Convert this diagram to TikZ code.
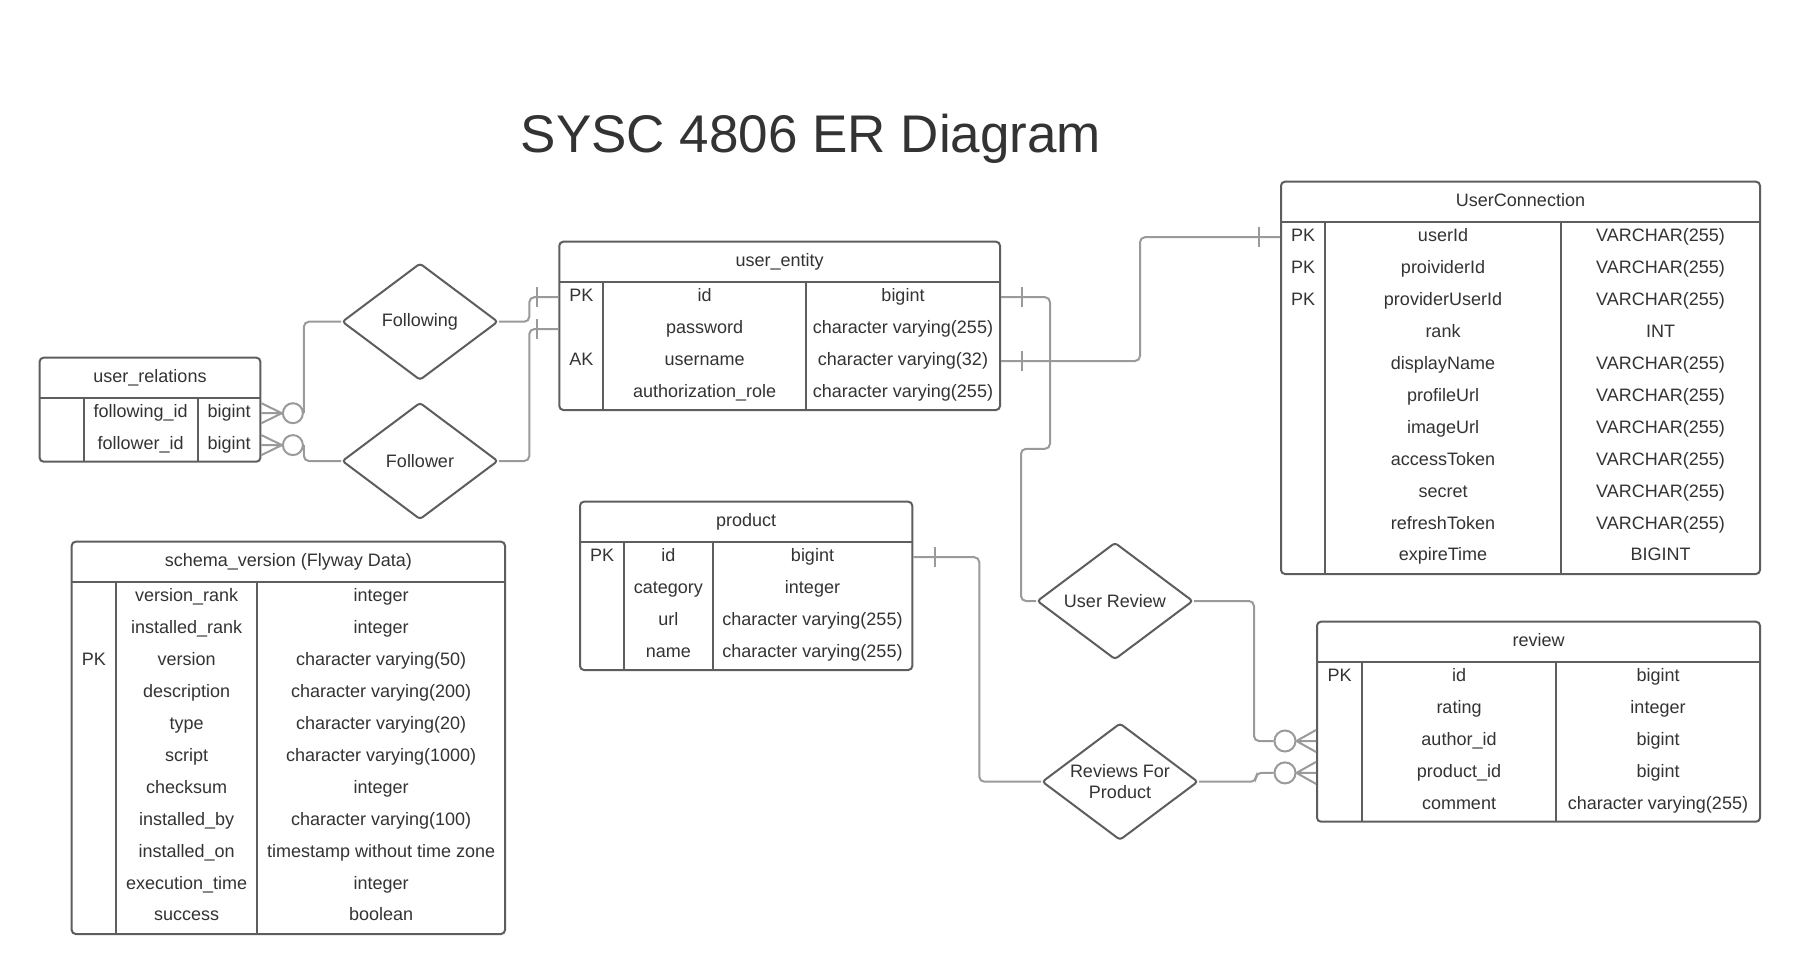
\documentclass[tikz,border=0pt]{standalone}
\usepackage{fontspec}
\setmainfont{Liberation Sans}
\usetikzlibrary{shapes.geometric,fit,calc}
\definecolor{boxc}{HTML}{5E5E5E}
\definecolor{connc}{HTML}{9A9A9A}
\definecolor{txtc}{HTML}{333333}
\tikzset{
  tblbox/.style={draw=boxc, line width=1pt, rounded corners=2pt, inner sep=0pt},
  tblline/.style={draw=boxc, line width=1pt},
  txt/.style={text=txtc, font=\fontsize{9pt}{10.5pt}\selectfont, inner sep=0pt, text height=6.6pt, text depth=1.9pt},
  rel/.style={diamond, aspect=1.33, draw=boxc, line width=1pt, minimum width=78pt, minimum height=58.5pt, inner sep=0pt, text=txtc, font=\fontsize{9pt}{10.5pt}\selectfont, align=center, rounded corners=1.5pt},
  conn/.style={draw=connc, line width=1pt, rounded corners=2.5pt},
  crow/.style={circle, draw=connc, line width=1pt, minimum size=10pt, inner sep=0pt},
  bar/.style={draw=connc, line width=1pt},
}
\newcommand\ertab[9]{%
  \node[tblbox, fit={(#2,#3) (#4,#5)}] (#1) {};
  \draw[tblline] (#2,#3+40) -- (#4,#3+40);
  \draw[tblline] (#6,#3+40) -- (#6,#5);
  \draw[tblline] (#7,#3+40) -- (#7,#5);
  \node[txt] (#1-title) at ({(#2+#4)/2},{#3+20}) {#8};
  \foreach \keyf/\namef/\typef [count=\rr] in {#9} {
    \node[txt] (#1-k\rr) at ({(#2+#6)/2},{#3+55.5+(\rr-1)*31.9}) {\keyf};
    \node[txt] (#1-n\rr) at ({(#6+#7)/2},{#3+55.5+(\rr-1)*31.9}) {\namef};
    \node[txt] (#1-t\rr) at ({(#7+#4)/2},{#3+55.5+(\rr-1)*31.9}) {\typef};
  }
}
\begin{document}
\begin{tikzpicture}[x=0.5pt,y=-0.5pt]
\fill[white] (0,0) rectangle (1800,974);
\useasboundingbox (0,0) rectangle (1800,974);

\node[text=txtc, font=\fontsize{26.5pt}{30pt}\selectfont, anchor=base, inner sep=0pt] (title) at (811,152.7) {SYSC 4806 ER Diagram};

\ertab{ur}{39.6}{357.7}{260.4}{461.7}{83.6}{197.9}{user\_relations}{{}/following\_id/bigint, {}/follower\_id/bigint}

\ertab{ue}{559.3}{241.7}{1000}{410}{603.3}{806}{user\_entity}{PK/id/bigint, {}/password/character varying(255), AK/username/character varying(32), {}/authorization\_role/character varying(255)}

\ertab{uc}{1281}{181.7}{1760}{574}{1325}{1561}{UserConnection}{PK/userId/VARCHAR(255), PK/proividerId/VARCHAR(255), PK/providerUserId/VARCHAR(255), {}/rank/INT, {}/displayName/VARCHAR(255), {}/profileUrl/VARCHAR(255), {}/imageUrl/VARCHAR(255), {}/accessToken/VARCHAR(255), {}/secret/VARCHAR(255), {}/refreshToken/VARCHAR(255), {}/expireTime/BIGINT}

\ertab{pr}{580}{501.7}{912.3}{670}{624}{712.7}{product}{PK/id/bigint, {}/category/integer, {}/url/character varying(255), {}/name/character varying(255)}

\ertab{sv}{71.7}{541.7}{505}{934}{116}{257.3}{schema\_version (Flyway Data)}{{}/version\_rank/integer, {}/installed\_rank/integer, PK/version/character varying(50), {}/description/character varying(200), {}/type/character varying(20), {}/script/character varying(1000), {}/checksum/integer, {}/installed\_by/character varying(100), {}/installed\_on/timestamp without time zone, {}/execution\_time/integer, {}/success/boolean}

\ertab{rv}{1317}{621.7}{1760}{821.7}{1362}{1556}{review}{PK/id/bigint, {}/rating/integer, {}/author\_id/bigint, {}/product\_id/bigint, {}/comment/character varying(255)}

% relationships
\node[rel] (fing) at (420,321.7) {Following};
\node[rel] (fer) at (420,461) {Follower};
\node[rel] (urev) at (1115,601) {User Review};
\node[rel] (rfp) at (1120,781.7) {Reviews For\\Product};

% many-side markers on user_relations
\node[crow] (c1) at ($(ur.east |- ur-n1)+(31.5,0)$) {};
\node[crow] (c2) at ($(ur.east |- ur-n2)+(31.5,0)$) {};
\foreach \c/\r in {c1/ur-n1, c2/ur-n2} {
  \draw[bar] (\c.west) -- ($(ur.east |- \r)+(0,-10)$)
             (\c.west) -- (ur.east |- \r)
             (\c.west) -- ($(ur.east |- \r)+(0,10)$);
}
% many-side markers on review
\node[crow, minimum size=10.5pt] (c3) at ($(rv.west |- rv-n3)+(-31,0)$) {};
\node[crow, minimum size=10.5pt] (c4) at ($(rv.west |- rv-n4)+(-31,0)$) {};
\foreach \c/\r in {c3/rv-n3, c4/rv-n4} {
  \draw[bar] (\c.east) -- ($(rv.west |- \r)+(0,-11)$)
             (\c.east) -- (rv.west |- \r)
             (\c.east) -- ($(rv.west |- \r)+(0,11)$);
}

% connectors
\draw[conn] (fing.west) -| (c1.east);
\draw[conn] (fer.west) -| (c2.east);
\draw[conn] (fing.east) -- ++(30.3,0) |- (ue.west |- ue-k1);
\draw[conn] (fer.east) -- ++(30.3,0) |- (ue.west |- ue-k2);
\draw[bar] ($(ue.west |- ue-k1)+(-21,-10)$) -- ++(0,20);
\draw[bar] ($(ue.west |- ue-k2)+(-21,-10)$) -- ++(0,20);

\draw[conn] (ue.east |- ue-k1) -- ++(49,0) -- ++(0,151.6) -- ++(-29,0) |- (urev.west);
\draw[bar] ($(ue.east |- ue-k1)+(21,-10)$) -- ++(0,20);

\draw[conn] (ue.east |- ue-k3) -- ++(139,0) |- (uc.west |- uc-k1);
\draw[bar] ($(ue.east |- ue-k3)+(21,-10)$) -- ++(0,20);
\draw[bar] ($(uc.west |- uc-k1)+(-21.5,-10)$) -- ++(0,20);

\draw[conn] (urev.east) -- ++(60,0) |- (c3.west);
\draw[conn] (rfp.east) -- ++(57,0) |- (c4.west);

\draw[conn] (pr.east |- pr-k1) -- ++(66,0) |- (rfp.west);
\draw[bar] ($(pr.east |- pr-k1)+(22,-10)$) -- ++(0,20);
\end{tikzpicture}
\end{document}
